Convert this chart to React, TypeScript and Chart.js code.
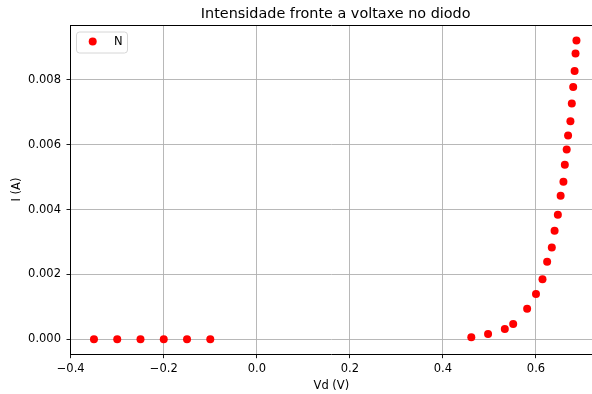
import React, { useEffect, useRef } from "react";
import { Chart, registerables } from "chart.js";

Chart.register(...registerables);

const seriesLabel = "N";
const vd: number[] = [
  -0.35, -0.3, -0.25, -0.2, -0.15, -0.1,
  0.461, 0.497, 0.533, 0.551, 0.581, 0.6, 0.614, 0.624, 0.634, 0.64, 0.647,
  0.653, 0.659, 0.662, 0.666, 0.669, 0.674, 0.677, 0.68, 0.683, 0.685, 0.687,
];
const current: number[] = [
  0, 0, 0, 0, 0, 0,
  0.00006, 0.000163, 0.000317, 0.000471, 0.000943, 0.001396, 0.001849, 0.002391,
  0.002835, 0.003347, 0.00384, 0.004425, 0.004857, 0.005381, 0.005855, 0.006287,
  0.006727, 0.007273, 0.007784, 0.008278, 0.008814, 0.009214,
];
const xTicks: number[] = [-0.4, -0.2, 0.0, 0.2, 0.4, 0.6];
const yTicks: number[] = [0, 0.002, 0.004, 0.006, 0.008];
const titleText = "Intensidade fronte a voltaxe no diodo";
const xTitle = "Vd (V)";
const yTitle = "I (A)";

const FONT = "'DejaVu Sans', sans-serif";
const TICK_SIZE = 11.5;
// the original axes extend past the right edge of the image; the title is centred on the full axes
const X_FULL_MAX = 0.739;

const framePlugin = {
  id: "frame",
  afterDraw(chart: any) {
    const { ctx, chartArea } = chart;
    const xs = chart.scales.x;
    ctx.save();
    ctx.strokeStyle = "#000";
    ctx.lineWidth = 1;
    ctx.beginPath();
    ctx.moveTo(chartArea.left, chartArea.top + 0.5);
    ctx.lineTo(chartArea.right, chartArea.top + 0.5);
    ctx.stroke();
    // title centred over the full (cropped) axes
    const cx = (xs.getPixelForValue(xs.min) + xs.getPixelForValue(X_FULL_MAX)) / 2;
    ctx.fillStyle = "#000";
    ctx.font = `14.4px ${FONT}`;
    ctx.textAlign = "center";
    ctx.textBaseline = "middle";
    ctx.fillText(titleText, cx, 14);
    // legend
    const bx = 76, by = 31.5, bw = 51, bh = 21;
    ctx.fillStyle = "rgba(255,255,255,0.8)";
    ctx.strokeStyle = "#d6d6d6";
    ctx.lineWidth = 1;
    ctx.beginPath();
    ctx.roundRect(bx + 0.5, by + 0.5, bw, bh, 3);
    ctx.fill();
    ctx.stroke();
    ctx.fillStyle = "#ff0000";
    ctx.beginPath();
    ctx.arc(92.7, 41.5, 4, 0, Math.PI * 2);
    ctx.fill();
    ctx.fillStyle = "#000";
    ctx.font = `${TICK_SIZE}px ${FONT}`;
    ctx.textAlign = "left";
    ctx.fillText(chart.data.datasets[0].label, 114, 42);
    ctx.restore();
  },
};

export default function App() {
  const ref = useRef<HTMLCanvasElement | null>(null);
  useEffect(() => {
    if (!ref.current) return;
    const chart = new Chart(ref.current, {
      type: "scatter",
      data: {
        datasets: [
          {
            label: seriesLabel,
            data: vd.map((x, i) => ({ x, y: current[i] })),
            backgroundColor: "#ff0000",
            borderColor: "#ff0000",
            pointRadius: 4,
            pointBorderWidth: 0,
          },
        ],
      },
      options: {
        animation: false,
        responsive: false,
        maintainAspectRatio: false,
        layout: { autoPadding: false, padding: { left: 0, right: 0, top: 25, bottom: 0 } },
        plugins: {
          legend: { display: false },
          tooltip: { enabled: false },
          title: { display: false },
        },
        scales: {
          x: {
            type: "linear",
            min: -0.4,
            max: 0.7204,
            afterBuildTicks: (s: any) => {
              s.ticks = xTicks.map((v) => ({ value: v }));
            },
            afterFit: (s: any) => {
              s.height = 40;
            },
            ticks: {
              color: "#000",
              font: { family: FONT, size: TICK_SIZE },
              padding: 3.5,
              maxRotation: 0,
              autoSkip: false,
              callback: (v: any) => {
                const n = Number(v);
                const s = Math.abs(n).toFixed(1);
                return n < -1e-9 ? "\u2212" + s : s;
              },
            },
            grid: {
              color: "#b0b0b0",
              lineWidth: 0.9,
              tickColor: "#000",
              tickLength: 4.2,
            },
            border: { color: "#000", width: 1 },
            title: {
              display: true,
              text: xTitle,
              color: "#000",
              font: { family: FONT, size: TICK_SIZE },
              padding: { top: 0, bottom: 1.4 },
            },
          },
          y: {
            type: "linear",
            min: -0.000453,
            max: 0.009695,
            afterBuildTicks: (s: any) => {
              s.ticks = yTicks.map((v) => ({ value: v }));
            },
            afterFit: (s: any) => {
              s.width = 70.7;
            },
            ticks: {
              color: "#000",
              font: { family: FONT, size: TICK_SIZE },
              padding: 5.5,
              autoSkip: false,
              callback: (v: any) => Number(v).toFixed(3),
            },
            grid: {
              color: "#b0b0b0",
              lineWidth: 0.9,
              tickColor: "#000",
              tickLength: 4.2,
            },
            border: { color: "#000", width: 1 },
            title: {
              display: true,
              text: yTitle,
              color: "#000",
              font: { family: FONT, size: TICK_SIZE },
              padding: { top: 10, bottom: 0 },
            },
          },
        },
      },
      plugins: [framePlugin],
    } as any);
    return () => chart.destroy();
  }, []);
  return (
    <div style={{ position: "fixed", left: 0, top: 0, width: 592, height: 394, background: "#fff" }}>
      <canvas ref={ref} width={592} height={394} style={{ width: 592, height: 394 }} />
    </div>
  );
}
